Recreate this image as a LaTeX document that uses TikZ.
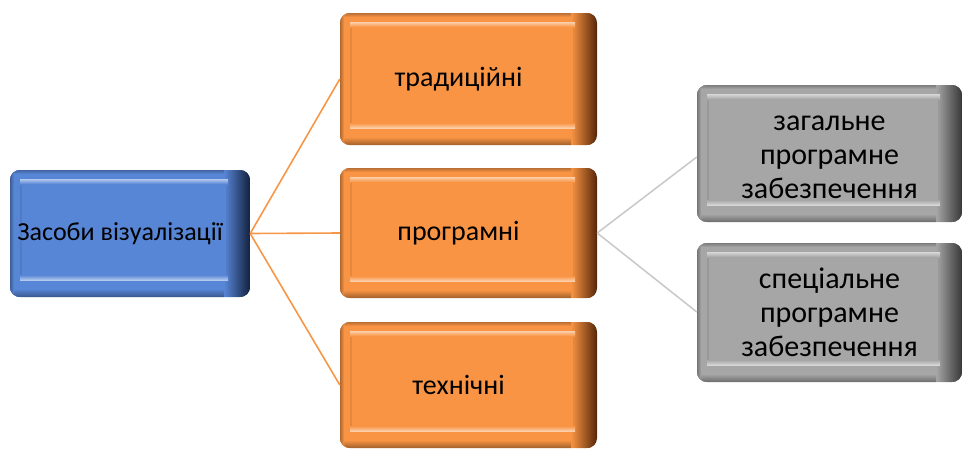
\documentclass[tikz,border=0pt]{standalone}
\usepackage{fontspec}
\setmainfont{Carlito}
\definecolor{bbase}{RGB}{88,134,214}
\definecolor{bdark}{RGB}{18,32,62}
\definecolor{obase}{RGB}{248,148,68}
\definecolor{odark}{RGB}{85,38,8}
\definecolor{gbase}{RGB}{166,166,166}
\definecolor{gdark}{RGB}{55,55,55}
\definecolor{oline}{RGB}{247,150,70}
\definecolor{gline}{RGB}{200,200,200}
\newcommand{\bevelbox}[6]{%
  \begin{scope}
    \clip[rounded corners=10pt] (#1,#2) rectangle (#3,#4);
    \fill[#6] (#1,#2) rectangle (#3,#4);
    \shade[left color=#5, right color=#6] ({#3-26},#2) rectangle (#3,#4);
    \fill[#5] (#1,#2) rectangle ({#3-26},#4);
    \shade[top color=#5, bottom color=#5!65!black] (#1,{#4-8}) rectangle ({#3-26},#4);
    \shade[top color=#5!75!black, bottom color=#5] (#1,#2) rectangle ({#3-26},{#2+4});
    \shade[left color=#5!70!black, right color=#5] (#1,#2) rectangle ({#1+4},#4);
  \end{scope}
  \fill[#5!92!black] ({#1+10},{#2+9}) rectangle ({#3-22},{#4-17});
  \shade[top color=#5!45!white, bottom color=#5] ({#1+10},{#2+9}) rectangle ({#3-22},{#2+14});
  \shade[top color=#5, bottom color=#5!45!white] ({#1+10},{#4-22}) rectangle ({#3-22},{#4-17});
  \fill[#5] ({#1+12},{#2+14}) rectangle ({#3-24},{#4-22});
}
\tikzset{
  lbl/.style={inner sep=0pt, text=black},
  oconn/.style={draw=oline, line width=1.6pt},
  gconn/.style={draw=gline, line width=1.5pt},
}
\begin{document}
\begin{tikzpicture}[x=1pt,y=-1pt]
\useasboundingbox (0,0) rectangle (963,450);
% boxes
\bevelbox{10}{170}{250}{297}{bbase}{bdark}
\bevelbox{340}{13}{597}{145}{obase}{odark}
\bevelbox{340}{168}{597}{298}{obase}{odark}
\bevelbox{340}{322}{597}{448}{obase}{odark}
\bevelbox{697}{85}{962}{222}{gbase}{gdark}
\bevelbox{697}{243}{962}{382}{gbase}{gdark}
% labels
\node[lbl, minimum width=240pt, minimum height=127pt, font=\fontsize{26}{30}\selectfont] (zasoby) at (130,233.5) {\kern-20pt Засоби візуалізації};
\node[lbl, minimum width=257pt, minimum height=132pt, font=\fontsize{28}{32}\selectfont] (trad) at (468.5,79) {\kern-20pt традиційні};
\node[lbl, minimum width=257pt, minimum height=130pt, font=\fontsize{28}{32}\selectfont] (prog) at (468.5,233) {\kern-20pt програмні};
\node[lbl, minimum width=257pt, minimum height=126pt, font=\fontsize{28}{32}\selectfont] (tech) at (468.5,385) {\kern-20pt технічні};
\node[lbl, align=center, minimum width=265pt, minimum height=137pt, font=\fontsize{30}{34}\selectfont] (zag) at (829.5,157) {загальне\\програмне\\забезпечення};
\node[lbl, align=center, minimum width=265pt, minimum height=139pt, font=\fontsize{30}{34}\selectfont] (spec) at (829.5,312) {спеціальне\\програмне\\забезпечення};
% connectors
\draw[oconn] (zasoby.east) -- (trad.west);
\draw[oconn] (zasoby.east) -- (prog.west);
\draw[oconn] (zasoby.east) -- (tech.west);
\draw[gconn] (prog.east) -- (zag.west);
\draw[gconn] (prog.east) -- (spec.west);
\end{tikzpicture}
\end{document}
